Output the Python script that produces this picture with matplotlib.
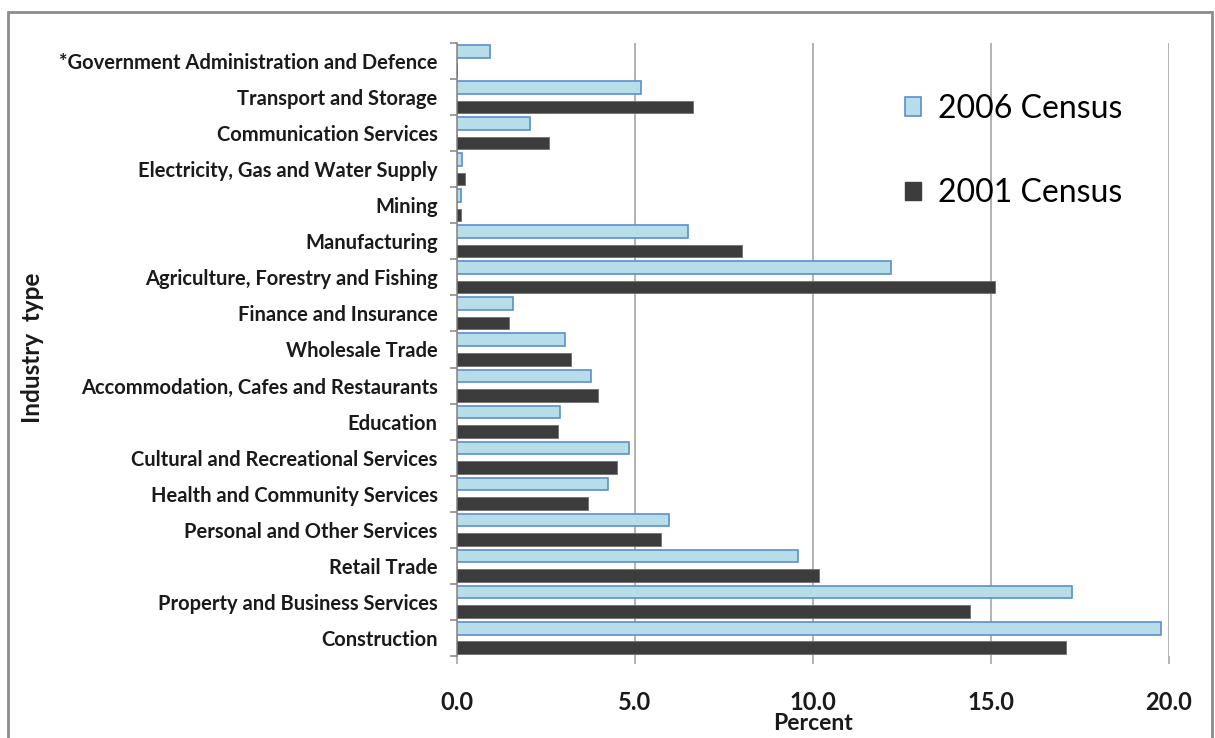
import matplotlib
matplotlib.use("Agg")
import matplotlib.pyplot as plt
from matplotlib.patches import Rectangle, Patch
import numpy as np

categories = [
    "*Government Administration and Defence",
    "Transport and Storage",
    "Communication Services",
    "Electricity, Gas and Water Supply",
    "Mining",
    "Manufacturing",
    "Agriculture, Forestry and Fishing",
    "Finance and Insurance",
    "Wholesale Trade",
    "Accommodation, Cafes and Restaurants",
    "Education",
    "Cultural and Recreational Services",
    "Health and Community Services",
    "Personal and Other Services",
    "Retail Trade",
    "Property and Business Services",
    "Construction",
]
census_2006 = [0.92, 5.17, 2.05, 0.13, 0.10, 6.5, 12.2, 1.56, 3.04, 3.77, 2.9, 4.84, 4.23, 5.96, 9.57, 17.27, 19.77]
census_2001 = [0.0, 6.62, 2.59, 0.22, 0.10, 8.0, 15.1, 1.47, 3.2, 3.96, 2.83, 4.5, 3.68, 5.74, 10.18, 14.42, 17.1]
x_ticks = [0, 5, 10, 15, 20]
x_tick_labels = ["0.0", "5.0", "10.0", "15.0", "20.0"]

plt.rcParams['font.family'] = ['Lato', 'DejaVu Sans']

fig = plt.figure(figsize=(12.15, 7.38), dpi=100)
ax = fig.add_axes([457/1215, (738-656)/738, (1169-457)/1215, (656-43)/738])

# outer frame
fig.patches.append(Rectangle((8/1215, -0.05), (1212-8)/1215, (738-12)/738 + 0.05,
                             transform=fig.transFigure, fill=False,
                             edgecolor='#8c8c8c', linewidth=2.0, zorder=0))

n = len(categories)
y = np.arange(n)
h = 0.35
off = 0.27

ax.barh(y - off, census_2006, height=h, color='#B7DDE8', edgecolor='#5B8FCC',
        linewidth=1.2, label='2006 Census', zorder=3)
ax.barh(y + off, census_2001, height=h, color='#3C3C3C', edgecolor='#6f6f6f',
        linewidth=0.6, label='2001 Census', zorder=3)

ax.set_ylim(n - 0.5, -0.5)
ax.set_xlim(0, 20)

ax.set_yticks(y)
ax.set_yticklabels(categories, fontsize=14.5, fontweight='bold', color='#1a1a1a')
ax.set_yticks(np.arange(-0.5, n, 1.0), minor=True)
ax.tick_params(axis='y', which='major', length=0, pad=14)
ax.tick_params(axis='y', which='minor', length=5, color='#8c8c8c', width=1.2)

ax.set_xticks(x_ticks)
ax.set_xticklabels(x_tick_labels, fontsize=17, fontweight='bold', color='#1a1a1a')
ax.tick_params(axis='x', which='major', length=6, color='#a6a6a6', width=1.2, pad=19)

ax.xaxis.grid(True, color='#a6a6a6', linewidth=1.2, zorder=0)
ax.set_axisbelow(True)

for s in ['top', 'right', 'bottom']:
    ax.spines[s].set_visible(False)
ax.spines['left'].set_color('#8c8c8c')
ax.spines['left'].set_linewidth(1.2)

fig.text(813/1215, 1 - 724/738, 'Percent', fontsize=16.5, fontweight='bold',
         ha='center', va='center', color='#1a1a1a')
fig.text(33/1215, 1 - 348/738, 'Industry  type', rotation=90, fontsize=17.5,
         fontweight='bold', ha='center', va='center', color='#1a1a1a')

handles = [Patch(facecolor='#B7DDE8', edgecolor='#5B8FCC', linewidth=1.2),
           Patch(facecolor='#3C3C3C', edgecolor='#3C3C3C')]
leg = ax.legend(handles, ['2006 Census', '2001 Census'], loc='upper left',
                bbox_to_anchor=(892/1215, 1 - 81/738), bbox_transform=fig.transFigure,
                frameon=False, fontsize=23, labelspacing=1.7, handlelength=0.5,
                handleheight=0.5, handletextpad=0.55, borderaxespad=0)

fig.savefig('out.png', dpi=100)
